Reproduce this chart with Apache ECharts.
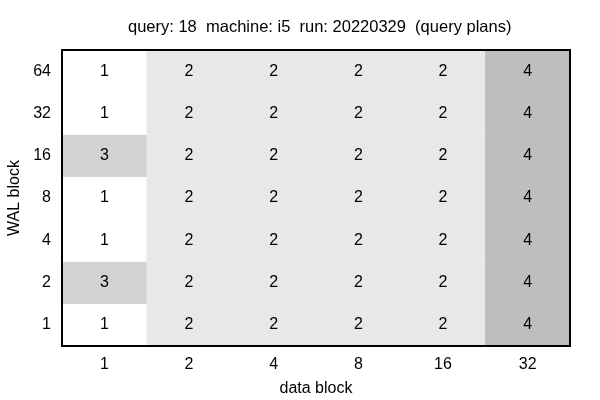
<!DOCTYPE html>
<html><head><meta charset="utf-8">
<script src="https://cdn.jsdelivr.net/npm/echarts@6/dist/echarts.min.js"></script>
<style>html,body{margin:0;padding:0;background:#fff}#c{width:600px;height:400px}</style>
</head><body><div id="c"></div>
<script>
const titleText = 'query: 18  machine: i5  run: 20220329  (query plans)';
const xCategories = ['1','2','4','8','16','32'];
const yCategories = ['1','2','4','8','16','32','64'];
// values per row (y), columns follow xCategories
const row1  = [1,2,2,2,2,4];
const row2  = [3,2,2,2,2,4];
const row4  = [1,2,2,2,2,4];
const row8  = [1,2,2,2,2,4];
const row16 = [3,2,2,2,2,4];
const row32 = [1,2,2,2,2,4];
const row64 = [1,2,2,2,2,4];
const rows = [row1,row2,row4,row8,row16,row32,row64];
const data = [];
rows.forEach((r, yi) => r.forEach((v, xi) => data.push([xi, yi, v])));
const font = 'Liberation Sans, Arial, sans-serif';
const chart = echarts.init(document.getElementById('c'));
const hidden = {show:false};
const line = {lineStyle:{color:'#000',width:2}};
chart.setOption({
  animation:false,
  title:{text:titleText,left:123,top:14,textStyle:{fontFamily:font,fontSize:16.5,fontWeight:'normal',color:'#000'}},
  grid:{left:62,top:50,width:508,height:296,outerBoundsMode:'none',containLabel:false},
  xAxis:[{type:'category',data:xCategories,position:'bottom',z:10,
    axisLine:line,axisTick:hidden,splitLine:hidden,
    axisLabel:{color:'#000',fontFamily:font,fontSize:16,margin:11},
    name:'data block',nameLocation:'middle',nameGap:35,nameTextStyle:{color:'#000',fontFamily:font,fontSize:16}},
    {type:'category',data:xCategories,position:'top',z:10,axisLine:line,axisTick:hidden,axisLabel:hidden,splitLine:hidden}],
  yAxis:[{type:'category',data:yCategories,position:'left',z:10,
    axisLine:line,axisTick:hidden,splitLine:hidden,
    axisLabel:{color:'#000',fontFamily:font,fontSize:16,margin:11},
    name:'WAL block',nameLocation:'middle',nameGap:38,nameTextStyle:{color:'#000',fontFamily:font,fontSize:16}},
    {type:'category',data:yCategories,position:'right',z:10,axisLine:line,axisTick:hidden,axisLabel:hidden,splitLine:hidden}],
  visualMap:{show:false,type:'piecewise',dimension:2,pieces:[
    {value:1,color:'#ffffff'},{value:2,color:'#e8e8e8'},{value:3,color:'#d3d3d3'},{value:4,color:'#bebebe'}]},
  series:[{type:'heatmap',data:data,z:1,
    label:{show:true,color:'#000',fontFamily:font,fontSize:16},
    itemStyle:{borderWidth:0}}]
});
</script></body></html>
